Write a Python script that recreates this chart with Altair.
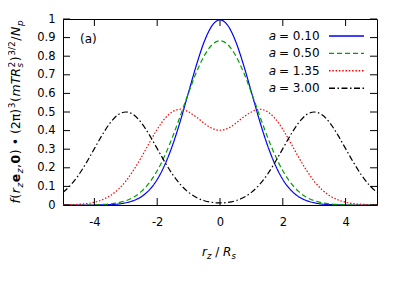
import altair as alt
import pandas as pd

# ---------------- data ----------------
x_vals = [-5.0, -4.75, -4.5, -4.25, -4.0, -3.75, -3.5, -3.25, -3.0, -2.75, -2.5,
          -2.25, -2.0, -1.75, -1.5, -1.25, -1.0, -0.75, -0.5, -0.25, 0.0,
          0.25, 0.5, 0.75, 1.0, 1.25, 1.5, 1.75, 2.0, 2.25, 2.5,
          2.75, 3.0, 3.25, 3.5, 3.75, 4.0, 4.25, 4.5, 4.75, 5.0]

f_a010 = [0.0, 0.0, 0.0, 0.0, 0.0, 0.001, 0.002, 0.005, 0.012, 0.024, 0.045,
          0.081, 0.137, 0.219, 0.327, 0.459, 0.607, 0.753, 0.879, 0.965, 0.995,
          0.965, 0.879, 0.753, 0.607, 0.459, 0.327, 0.219, 0.137, 0.081, 0.045,
          0.024, 0.012, 0.005, 0.002, 0.001, 0.0, 0.0, 0.0, 0.0, 0.0]

f_a050 = [0.0, 0.0, 0.0, 0.0, 0.001, 0.003, 0.006, 0.012, 0.023, 0.042, 0.073,
          0.120, 0.184, 0.269, 0.371, 0.486, 0.604, 0.714, 0.803, 0.862, 0.883,
          0.862, 0.803, 0.714, 0.604, 0.486, 0.371, 0.269, 0.184, 0.120, 0.073,
          0.042, 0.023, 0.012, 0.006, 0.003, 0.001, 0.0, 0.0, 0.0, 0.0]

f_a135 = [0.001, 0.002, 0.004, 0.007, 0.015, 0.028, 0.050, 0.082, 0.128, 0.188, 0.258,
          0.334, 0.407, 0.466, 0.503, 0.515, 0.500, 0.473, 0.439, 0.412, 0.402,
          0.412, 0.439, 0.473, 0.500, 0.515, 0.503, 0.466, 0.407, 0.334, 0.258,
          0.188, 0.128, 0.082, 0.050, 0.028, 0.015, 0.007, 0.004, 0.002, 0.001]

f_a300 = [0.068, 0.108, 0.162, 0.229, 0.303, 0.377, 0.441, 0.485, 0.500, 0.485, 0.441,
          0.377, 0.303, 0.229, 0.162, 0.108, 0.068, 0.040, 0.023, 0.014, 0.011,
          0.014, 0.023, 0.040, 0.068, 0.108, 0.162, 0.229, 0.303, 0.377, 0.441,
          0.485, 0.500, 0.485, 0.441, 0.377, 0.303, 0.229, 0.162, 0.108, 0.068]

a_texts = ["0.10", "0.50", "1.35", "3.00"]
series_values = [f_a010, f_a050, f_a135, f_a300]
x_ticks = [-4, -2, 0, 2, 4]
y_ticks = [0, 0.1, 0.2, 0.3, 0.4, 0.5, 0.6, 0.7, 0.8, 0.9, 1]

# ---------------- styles ----------------
colors = ["#0000ff", "#00a000", "#ff0000", "#000000"]
dashes = [[1, 0], [5, 3], [1.5, 1.8], [6, 2.5, 1.5, 2.5]]
FONT = "DejaVu Sans"
W, H = 314, 186
NBSP = "\u00a0"

series_names = ["a = " + t for t in a_texts]
rows = []
for name, vals in zip(series_names, series_values):
    for xv, yv in zip(x_vals, vals):
        rows.append({"x": xv, "f": yv, "series": name})
df = pd.DataFrame(rows)

xscale = alt.Scale(domain=[-5, 5], nice=False, zero=False)
yscale = alt.Scale(domain=[0, 1], nice=False)
xaxis = alt.Axis(values=x_ticks, ticks=False, domain=False, grid=False, title=None,
                 labelPadding=11, labelFontSize=11.5, labelFont=FONT, labelColor="black",
                 labelExpr="datum.value", labelFlush=False)
yaxis = alt.Axis(values=y_ticks, ticks=False, domain=False, grid=False, title=None,
                 labelPadding=8, labelFontSize=11.5, labelFont=FONT, labelColor="black",
                 labelExpr="datum.value")

lines = alt.Chart(df).mark_line(clip=True, strokeWidth=1.2, interpolate="monotone").encode(
    x=alt.X("x:Q", scale=xscale, axis=xaxis),
    y=alt.Y("f:Q", scale=yscale, axis=yaxis),
    color=alt.Color("series:N", scale=alt.Scale(domain=series_names, range=colors), legend=None),
    strokeDash=alt.StrokeDash("series:N", scale=alt.Scale(domain=series_names, range=dashes), legend=None),
    detail="series:N",
)

xt = pd.DataFrame({"t": x_ticks})
yt = pd.DataFrame({"t": y_ticks})
TL = 7
tick_bottom = alt.Chart(xt).mark_rule(color="black", strokeWidth=1).encode(
    x=alt.X("t:Q", scale=xscale, axis=xaxis), y=alt.value(H), y2=alt.value(H - TL))
tick_top = alt.Chart(xt).mark_rule(color="black", strokeWidth=1).encode(
    x=alt.X("t:Q", scale=xscale, axis=xaxis), y=alt.value(0), y2=alt.value(TL))
tick_left = alt.Chart(yt).mark_rule(color="black", strokeWidth=1).encode(
    y=alt.Y("t:Q", scale=yscale, axis=yaxis), x=alt.value(0), x2=alt.value(TL))
tick_right = alt.Chart(yt).mark_rule(color="black", strokeWidth=1).encode(
    y=alt.Y("t:Q", scale=yscale, axis=yaxis), x=alt.value(W), x2=alt.value(W - TL))

layers = [lines, tick_bottom, tick_top, tick_left, tick_right]


def txt(s, x, y, size=12, style="normal", weight="normal", align="left",
        baseline="alphabetic", angle=0):
    return alt.Chart(pd.DataFrame({"t": [s]})).mark_text(
        font=FONT, fontSize=size, fontStyle=style, fontWeight=weight, align=align,
        baseline=baseline, angle=angle, color="black").encode(
        text="t:N", x=alt.value(x), y=alt.value(y))


# panel label
layers.append(txt("(a)", 17, 19.5, size=12, baseline="middle"))

# legend (label left, sample right, as in the reference)
LEG_Y0, LEG_DY = 17, 17.4
for i, (t, c, d) in enumerate(zip(a_texts, colors, dashes)):
    yy = LEG_Y0 + i * LEG_DY
    layers.append(txt("a", 213, yy, size=12, style="italic", align="right", baseline="middle"))
    layers.append(txt("=" + NBSP + t, 216, yy, size=12, baseline="middle"))
    layers.append(alt.Chart(pd.DataFrame({"k": [t]})).mark_rule(
        color=c, strokeDash=d, strokeWidth=1.4).encode(
        x=alt.value(266), x2=alt.value(301), y=alt.value(yy)))

# approximate advance widths (em) for placing title pieces
ADV = {"f": .352, "(": .390, ")": .390, "r": .411, "z": .525, "e": .615, ",": .318,
       "0": .636, " ": .318, NBSP: .318, "\u2022": .590, "2": .636, "\u03c0": .602, "3": .636,
       "m": .974, "T": .611, "R": .695, "s": .521, "/": .337, "N": .748, "p": .635}
BOLD = {"e": .678, "0": .696}


def adv(s, size, weight):
    tot = 0
    for ch in s:
        w = BOLD.get(ch, ADV.get(ch, .6)) if weight == "bold" else ADV.get(ch, .6)
        tot += w
    return tot * size


# x-axis title: r_z / R_s   (piece, style, size, baseline shift, gap before)
MAIN, SCR = 12, 8.5
xt_pieces = [("r", "italic", MAIN, 0, 0), ("z", "italic", SCR, 3, 0),
             ("/", "normal", MAIN, 0, 3.8),
             ("R", "italic", MAIN, 0, 3.8), ("s", "italic", SCR, 3, 0)]
cx = 139
for s, st, sz, sh, gap in xt_pieces:
    cx += gap
    layers.append(txt(s, cx, 237 + sh, size=sz, style=st))
    cx += adv(s, sz, "normal")

# y-axis title (rotated): f(r_z e_z, 0) • (2π)^3 (mTR_s^2)^{3/2} / N_p
YM, YS = 12.5, 9
YSUB, YSUP = 3, -4.8
GAP = 0.55
yt_pieces = [("f", "italic", "normal", YM, 0, True), ("(", "normal", "normal", YM, 0, True),
             ("r", "italic", "normal", YM, 0, True), ("z", "italic", "normal", YS, YSUB, True),
             ("e", "normal", "bold", YM, 0, True), ("z", "italic", "normal", YS, YSUB, True),
             (",", "normal", "normal", YM, 0, True), ("0", "normal", "bold", YM, 0, True),
             (")" + NBSP + "\u2022" + NBSP + "(2\u03c0)", "normal", "normal", YM, 0, True),
             ("3", "normal", "normal", YS, YSUP, True), ("(", "normal", "normal", YM, 0, True),
             ("mTR", "italic", "normal", YM, 0, True), ("s", "italic", "normal", YS, YSUB, False),
             ("2", "normal", "normal", YS, YSUP, True), (")", "normal", "normal", YM, 0, True),
             ("3/2", "normal", "normal", YS, YSUP, True), ("/", "normal", "normal", YM, 0, True),
             ("N", "italic", "normal", YM, 0, True), ("p", "italic", "normal", YS, YSUB, True)]
n_mv = sum(1 for p in yt_pieces if p[5])
total = sum(adv(s, sz, wt) for s, st, wt, sz, sh, mv in yt_pieces if mv) + GAP * (n_mv - 1)
pos = H / 2 + total / 2
BASE_X = -43.5
for s, st, wt, sz, sh, mv in yt_pieces:
    layers.append(txt(s, BASE_X + sh, pos, size=sz, style=st, weight=wt, angle=270))
    if mv:
        pos -= adv(s, sz, wt) + GAP

chart = alt.layer(*layers).properties(
    width=W, height=H,
    padding={"left": 55, "top": 11, "right": 14, "bottom": 60},
    autosize=alt.AutoSizeParams(type="none"),
).configure_view(stroke="black", strokeWidth=1)

chart.save("out.html", embed_options={"renderer": "svg", "actions": False})
